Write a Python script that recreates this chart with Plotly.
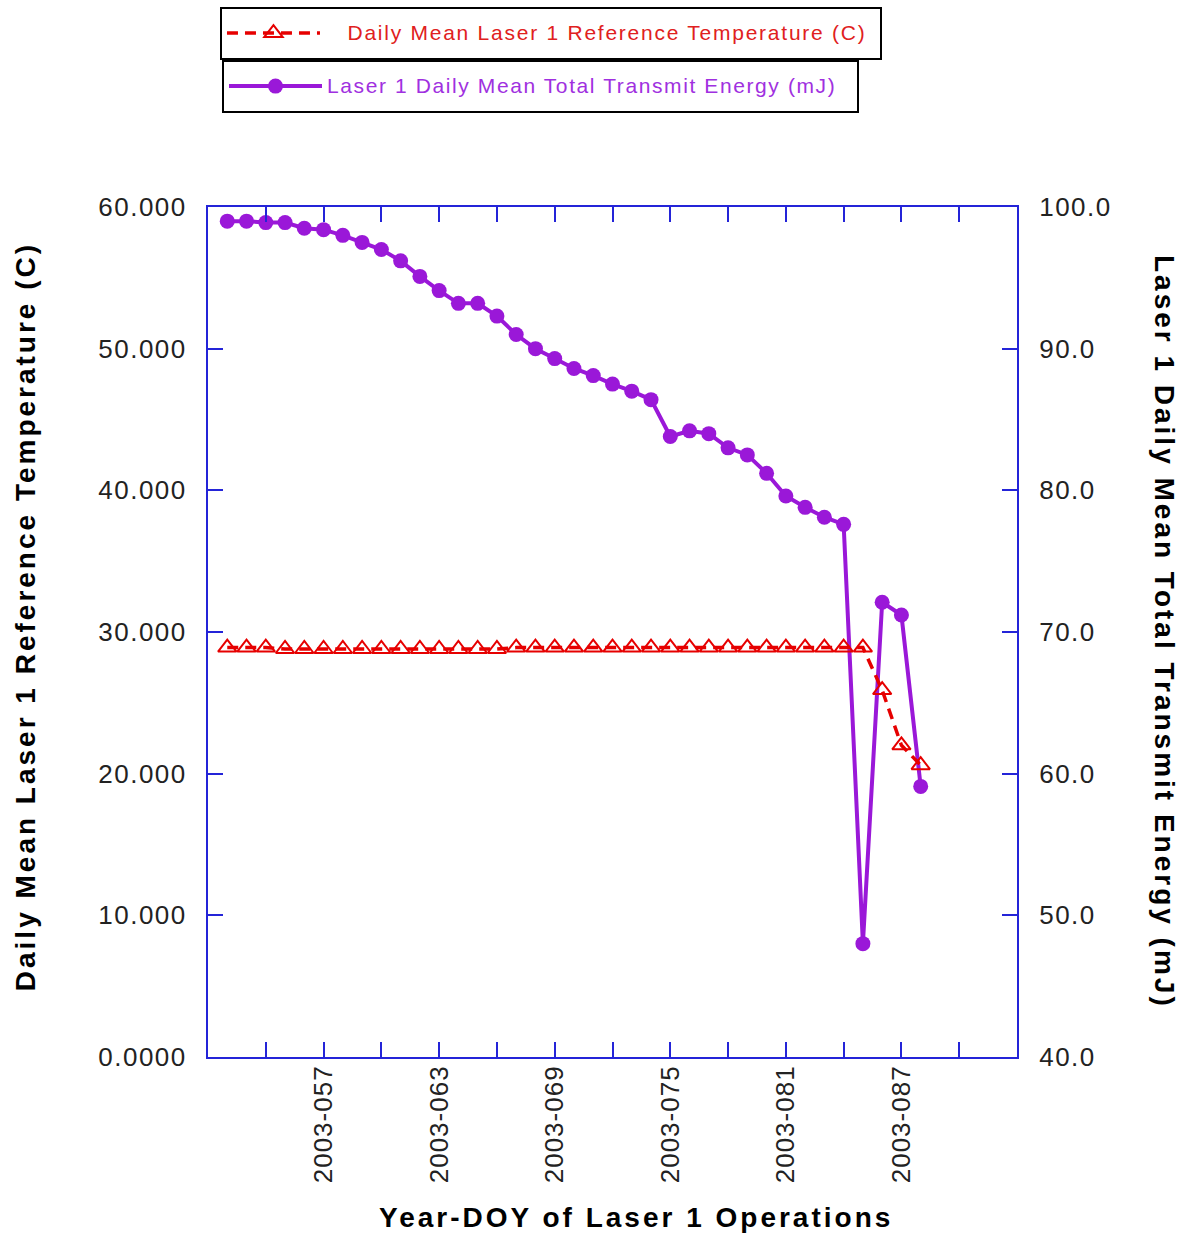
import plotly.graph_objects as go

# Day-of-year (2003) for each daily mean
doy = list(range(52, 89))

# Daily mean reference temperature, Laser 1 (C)
ref_temp_c = [
    28.9, 28.9, 28.9, 28.8, 28.8, 28.8, 28.8, 28.8, 28.8, 28.8,
    28.8, 28.8, 28.8, 28.8, 28.8, 28.9, 28.9, 28.9, 28.9, 28.9,
    28.9, 28.9, 28.9, 28.9, 28.9, 28.9, 28.9, 28.9, 28.9, 28.9,
    28.9, 28.9, 28.9, 28.9, 25.9, 22.0, 20.6,
]

# Daily mean total transmit energy, Laser 1 (mJ)
energy_mj = [
    99.0, 99.0, 98.9, 98.9, 98.5, 98.4, 98.0, 97.5, 97.0, 96.2,
    95.1, 94.1, 93.2, 93.2, 92.3, 91.0, 90.0, 89.3, 88.6, 88.1,
    87.5, 87.0, 86.4, 83.8, 84.2, 84.0, 83.0, 82.5, 81.2, 79.6,
    78.8, 78.1, 77.6, 48.0, 72.1, 71.2, 59.1,
]

# Axis ticks and labels
x_tick_vals = list(range(54, 91, 3))
x_tick_text = [f"2003-{d:03d}" if (d - 57) % 6 == 0 else "" for d in x_tick_vals]
temp_tick_vals = [0, 10, 20, 30, 40, 50, 60]
temp_tick_text = ["0.0000", "10.000", "20.000", "30.000", "40.000", "50.000", "60.000"]
energy_tick_vals = [40, 50, 60, 70, 80, 90, 100]
energy_tick_text = ["40.0", "50.0", "60.0", "70.0", "80.0", "90.0", "100.0"]

temp_name = "Daily Mean Laser 1 Reference Temperature (C)"
energy_name = "Laser 1 Daily Mean Total Transmit Energy (mJ)"
x_title = "Year-DOY of Laser 1 Operations"

AXIS_BLUE = "#2424d8"
PURPLE = "#9a18d8"
RED = "#e60000"
FONT = "Liberation Sans, Arial, sans-serif"


def spaced(text, spacing, size=None, shift=None):
    """Wrap text in a span with extra letter spacing (and optional size/shift)."""
    style = f"letter-spacing:{spacing}px"
    if size is not None:
        style += f";font-size:{size}px"
    if shift is not None:
        style += f";baseline-shift:{shift}px"
    return f'<span style="{style}">{text}</span>'


fig = go.Figure()

fig.add_trace(go.Scatter(
    x=doy, y=energy_mj, yaxis="y", mode="lines+markers",
    name=spaced(energy_name + "&nbsp;&nbsp;", 1.6, 21, 4),
    line=dict(color=PURPLE, width=4),
    marker=dict(symbol="circle", size=15, color=PURPLE),
    legend="legend2", showlegend=True,
))

fig.add_trace(go.Scatter(
    x=doy, y=ref_temp_c, yaxis="y2", mode="lines+markers",
    name="&nbsp;&nbsp;&nbsp;" + spaced(temp_name + "&nbsp;", 1.75, 21, 4),
    line=dict(color=RED, width=3.5, dash="11px,7px"),
    marker=dict(symbol="triangle-up-open", size=16, color=RED,
                line=dict(color=RED, width=2)),
    legend="legend", showlegend=True,
))

axis_common = dict(
    showline=True, linecolor=AXIS_BLUE, linewidth=2,
    ticks="inside", ticklen=15, tickwidth=2, tickcolor=AXIS_BLUE,
    showgrid=False, zeroline=False,
    tickfont=dict(family=FONT, size=26, color="#222222"),
)

fig.update_layout(
    width=1192, height=1235,
    margin=dict(l=208, r=175, t=207, b=178, autoexpand=False),
    paper_bgcolor="white", plot_bgcolor="white",
    showlegend=True,
    xaxis=dict(
        range=[51, 93], tickmode="array", tickvals=x_tick_vals,
        ticktext=[spaced(t, 1) if t else "" for t in x_tick_text],
        tickangle=-90, mirror="ticks",
        ticklabelstandoff=-4, **axis_common,
    ),
    yaxis=dict(
        range=[40, 100], side="right", tickmode="array",
        tickvals=energy_tick_vals,
        ticktext=[spaced(t, 1.5) for t in energy_tick_text],
        ticklabelstandoff=15, **axis_common,
    ),
    yaxis2=dict(
        range=[0, 60], side="left", overlaying="y", anchor="x",
        tickmode="array", tickvals=temp_tick_vals,
        ticktext=[spaced(t, 1.5) for t in temp_tick_text],
        ticklabelstandoff=14, **axis_common,
    ),
    legend=dict(
        x=0.0148, y=1.2353, xanchor="left", yanchor="top",
        bgcolor="white", bordercolor="black", borderwidth=2,
        itemwidth=93,
        font=dict(family=FONT, size=27, color="#e02020"),
    ),
    legend2=dict(
        x=0.0173, y=1.1729, xanchor="left", yanchor="top",
        bgcolor="white", bordercolor="black", borderwidth=2,
        itemwidth=93,
        font=dict(family=FONT, size=27, color="#a030e0"),
    ),
    annotations=[
        dict(text="<b>" + spaced(temp_name, 3) + "</b>",
             xref="paper", yref="paper", x=-0.226, y=0.5176,
             xanchor="center", yanchor="middle",
             textangle=-90, showarrow=False,
             font=dict(family=FONT, size=28, color="black")),
        dict(text="<b>" + spaced(energy_name, 3) + "</b>",
             xref="paper", yref="paper", x=1.183, y=0.5,
             xanchor="center", yanchor="middle",
             textangle=90, showarrow=False,
             font=dict(family=FONT, size=28, color="black")),
        dict(text="<b>" + spaced(x_title, 3) + "</b>",
             xref="paper", yref="paper", x=0.529, y=-0.189,
             xanchor="center", yanchor="middle",
             showarrow=False,
             font=dict(family=FONT, size=28, color="black")),
    ],
)

fig.write_html("out.html")
